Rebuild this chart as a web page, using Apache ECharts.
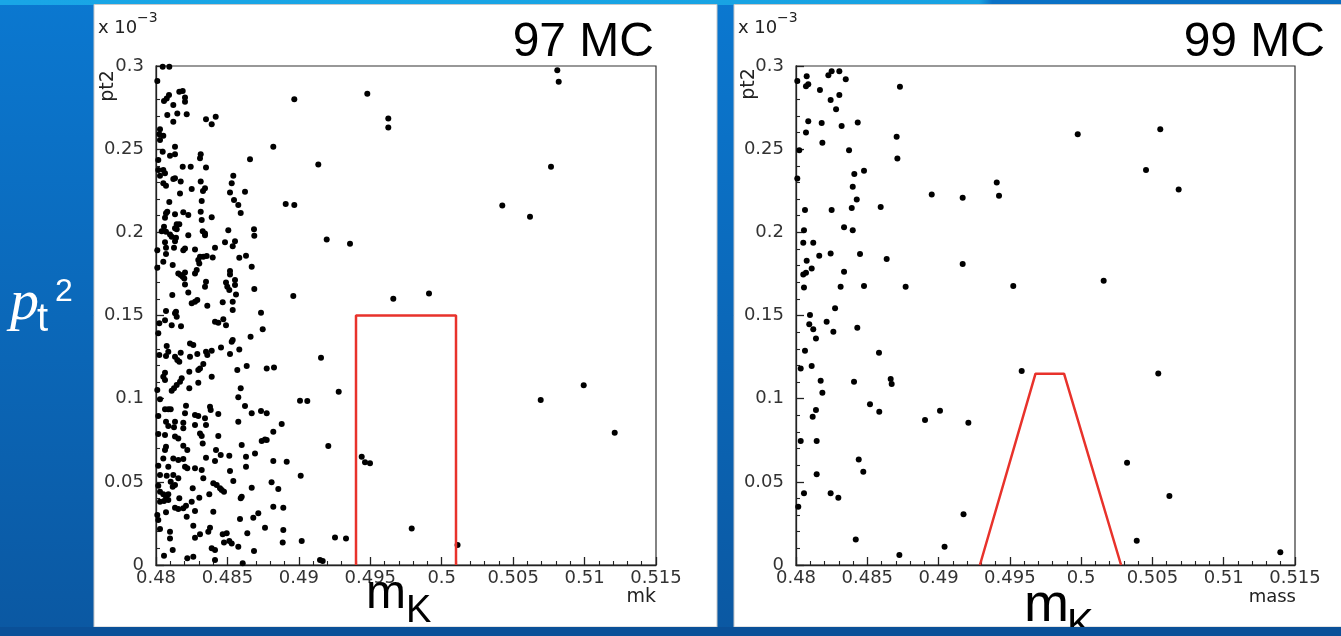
<!DOCTYPE html>
<html><head><meta charset="utf-8">
<script src="https://cdn.jsdelivr.net/npm/echarts@6/dist/echarts.min.js"></script>
<style>html,body{margin:0;padding:0;width:1341px;height:636px;overflow:hidden}#c{width:1341px;height:636px}</style>
</head><body><div id="c"></div><script>
// ---- data (pt2 in units of 1e-3) ----
const xTickLabels = ['0.48','0.485','0.49','0.495','0.5','0.505','0.51','0.515'];
const yTickLabels = ['0','0.05','0.1','0.15','0.2','0.25','0.3'];
const panelTitles = ['97 MC','99 MC'];
const xAxisNames = ['mk','mass'];

const pts97 = [
[0.48047,0.2995],[0.48093,0.2995],[0.48009,0.291],[0.48056,0.279],[0.48075,0.2805],[0.48091,0.2825],[0.48163,0.2845],[0.48187,0.285],[0.48203,0.281],[0.48203,0.2785],[0.48121,0.2765],[0.48079,0.2705],[0.48149,0.2715],[0.48215,0.271],[0.48121,0.2665],[0.4835,0.268],[0.4839,0.265],[0.48418,0.2695],[0.48968,0.28],[0.48028,0.262],[0.48023,0.259],[0.48051,0.258],[0.48028,0.2555],[0.48133,0.2515],[0.48047,0.2485],[0.48098,0.246],[0.48133,0.247],[0.48016,0.2435],[0.48313,0.247],[0.48308,0.2445],[0.48821,0.2515],[0.48658,0.244],[0.48187,0.2395],[0.48243,0.2395],[0.4835,0.239],[0.48016,0.2375],[0.48051,0.2375],[0.48063,0.2355],[0.48028,0.234],[0.48121,0.232],[0.48133,0.2325],[0.48173,0.2305],[0.48051,0.2295],[0.4807,0.228],[0.48313,0.2305],[0.48541,0.234],[0.4853,0.2295],[0.4825,0.226],[0.48343,0.2265],
[0.49479,0.2833],[0.49626,0.2685],[0.49626,0.263],[0.49136,0.2408],[0.50809,0.2975],[0.50819,0.2905],[0.50765,0.2395],[0.50424,0.2162],[0.50618,0.2094],[0.49911,0.1633],[0.48908,0.217],[0.48968,0.2164],[0.49195,0.1957],[0.49358,0.1931],[0.48961,0.1617],[0.49661,0.16],
[0.48329,0.2248],[0.48168,0.2234],[0.48518,0.224],[0.48623,0.2244],[0.48093,0.2183],[0.4832,0.2188],[0.48546,0.2194],[0.48576,0.2164],[0.48593,0.2116],[0.4807,0.2114],[0.48079,0.2124],[0.48133,0.2108],[0.48191,0.212],[0.48226,0.2104],[0.48313,0.2124],[0.4839,0.209],[0.4832,0.2074],[0.48063,0.2087],[0.48145,0.2048],[0.48163,0.2048],[0.48133,0.2024],[0.48145,0.2018],[0.48056,0.2033],[0.4804,0.2007],[0.4807,0.2003],[0.48098,0.1987],[0.4811,0.1973],[0.4814,0.1967],[0.48226,0.1983],[0.48327,0.2007],[0.48343,0.1993],[0.48343,0.1983],
[0.48506,0.2013],[0.48686,0.2019],[0.48688,0.1979],[0.48063,0.194],[0.48133,0.1947],[0.4807,0.1907],[0.48126,0.1907],[0.4807,0.1869],[0.48009,0.1893],[0.48191,0.1893],[0.48203,0.1903],[0.48273,0.1897],[0.48483,0.194],[0.48553,0.1947],[0.48537,0.1917],[0.48413,0.1907],[0.48308,0.1853],[0.48331,0.1853],[0.48355,0.1857],[0.48397,0.1849],[0.48296,0.1833],[0.48303,0.1813],[0.48285,0.1773],[0.48273,0.1753],[0.48051,0.1823],[0.48117,0.1803],[0.48009,0.1787],[0.48583,0.1847],[0.4863,0.1859],[0.4867,0.1793],[0.48156,0.1753],[0.48173,0.1743],[0.48187,0.1733],[0.48203,0.1759],[0.48198,0.1723],[0.48518,0.1767],[0.48518,0.1747],[0.48553,0.1713],[0.4835,0.1703],[0.48203,0.1687],[0.48343,0.1673],[0.4849,0.1699],[0.48499,0.1673],[0.48513,0.1653],[0.48553,0.1683],[0.4856,0.1627],[0.48688,0.1659],[0.48226,0.1639],[0.48114,0.1623],[0.4825,0.1573],[0.48273,0.1583],[0.48289,0.1593],[0.48359,0.1558],[0.48467,0.1579],[0.48537,0.1583],[0.48537,0.1533],[0.4807,0.1527],[0.4814,0.1523],[0.48133,0.1513],[0.48735,0.1516],
[0.48145,0.1492],[0.48023,0.1453],[0.48063,0.1472],[0.4811,0.1442],[0.48175,0.1436],[0.48413,0.1462],[0.48436,0.1456],[0.48471,0.1477],[0.4849,0.1442],[0.48747,0.1417],[0.48016,0.1393],[0.48662,0.1372],[0.4853,0.1342],[0.48537,0.1352],[0.48238,0.1332],[0.48261,0.1322],[0.48455,0.1308],[0.48583,0.1296],[0.48075,0.1316],[0.48086,0.1282],[0.48023,0.1262],[0.4807,0.1256],[0.48133,0.1252],[0.48149,0.1232],[0.48173,0.1276],[0.48238,0.1252],[0.48289,0.1268],[0.4835,0.1282],[0.48359,0.1262],[0.4839,0.1288],[0.48518,0.1268],[0.48163,0.1222],[0.48331,0.1208],[0.48308,0.1182],[0.48296,0.1172],[0.48635,0.1196],[0.48569,0.1172],[0.48775,0.1182],[0.48826,0.1188],[0.48063,0.1156],[0.48051,0.1132],[0.48063,0.1112],[0.48233,0.1162],[0.4839,0.1132],[0.4818,0.1122],[0.48168,0.1102],[0.48145,0.1082],[0.48126,0.1062],[0.4811,0.1048],[0.48296,0.1096],[0.48233,0.1062],[0.48009,0.1052],[0.48593,0.1062],[0.48576,0.1008],[0.48028,0.0996],[0.49008,0.0987],[0.49059,0.0986],[0.4821,0.0957],[0.48378,0.0951],[0.48383,0.0932],[0.48623,0.0956],[0.48063,0.0936],[0.48086,0.0936],[0.48103,0.0936],[0.48203,0.0912],[0.48273,0.0902],[0.48296,0.0896],[0.48343,0.0882],[0.48436,0.0908],[0.4867,0.0912],[0.48735,0.0926],[0.48775,0.0912],[0.48016,0.0896],[0.48576,0.0861],[0.4807,0.0861],[0.48133,0.0861],[0.48191,0.0855],[0.4888,0.0847],[0.48273,0.0841],[0.4835,0.0841],[0.48086,0.0835],[0.48126,0.0828],[0.48191,0.0822],[0.48821,0.0801],[0.48016,0.0787],[0.48063,0.0781],[0.48308,0.0791],[0.4832,0.0775],[0.48436,0.0775],[0.48156,0.0761],[0.48763,0.0755],
[0.49155,0.1246],[0.49279,0.1042],
[0.48133,0.0773],[0.4874,0.0745],[0.48775,0.0751],[0.4807,0.0711],[0.48063,0.0691],[0.48051,0.0641],[0.48191,0.0717],[0.48219,0.0691],[0.48327,0.0731],[0.4842,0.0691],[0.48413,0.0625],[0.486,0.0721],[0.48453,0.0661],[0.48513,0.0657],[0.48693,0.0671],[0.4863,0.0651],[0.4863,0.0591],[0.4835,0.0645],[0.48121,0.0641],[0.48156,0.0631],[0.48191,0.0637],[0.48203,0.0591],[0.48219,0.0581],[0.48821,0.0625],[0.48915,0.0621],[0.48016,0.0597],[0.48086,0.0591],[0.48028,0.0541],[0.48075,0.0537],[0.48121,0.0541],[0.48273,0.0581],[0.4832,0.0571],[0.48518,0.0565],[0.49013,0.0537],[0.48103,0.0501],[0.48133,0.0481],[0.48117,0.0471],[0.48156,0.0521],[0.48331,0.0521],[0.48401,0.0491],[0.48425,0.0481],[0.48448,0.0461],[0.4846,0.0451],[0.48476,0.0441],[0.48257,0.0461],[0.48541,0.0505],[0.48809,0.0497],[0.48856,0.0457],[0.4867,0.0465],[0.48016,0.0477],[0.48028,0.0441],[0.48051,0.0425],[0.4807,0.0411],[0.48086,0.0425],[0.48086,0.0391],[0.48028,0.0381],[0.48056,0.0385],[0.48163,0.0401],[0.48303,0.0405],[0.48373,0.0425],[0.486,0.0411],[0.48593,0.0401],[0.48133,0.0344],[0.48156,0.0337],[0.48191,0.0341],[0.4821,0.0356],[0.4825,0.0381],[0.4807,0.0317],[0.48273,0.0325],[0.48401,0.032],[0.48215,0.029],[0.48716,0.0311],[0.48681,0.0284],[0.48821,0.035],[0.48891,0.0344],[0.48588,0.0276],[0.48009,0.03],[0.48016,0.027],[0.48261,0.0236],[0.48378,0.0224],[0.48366,0.02],[0.48308,0.0185],[0.48273,0.0164],[0.48763,0.0224],[0.48467,0.0185],[0.48495,0.0191],[0.48639,0.0191],[0.48891,0.021],[0.48028,0.0216],[0.48098,0.02],[0.48098,0.016],[0.48513,0.0144],[0.4853,0.013],[0.48476,0.0136],[0.48887,0.0136],[0.4902,0.0144],[0.48576,0.011],[0.4839,0.01],[0.48413,0.009],[0.48117,0.009],[0.48686,0.0084],[0.48056,0.0056],[0.48219,0.004],[0.48261,0.005],[0.48413,0.003],[0.48607,0.001],
[0.49206,0.0715],[0.4944,0.0651],[0.49463,0.0617],[0.49498,0.0611],[0.49253,0.0166],[0.4933,0.016],[0.4979,0.022],[0.49148,0.003],[0.49167,0.0024],[0.50111,0.012],[0.50693,0.0992],[0.50994,0.108],[0.51211,0.0795]
];

const pts99 = [
[0.48009,0.291],[0.48075,0.2939],[0.4807,0.2879],[0.48086,0.2891],[0.48227,0.2945],[0.4825,0.2969],[0.48304,0.2969],[0.48349,0.2921],[0.48168,0.2855],[0.48243,0.2795],[0.48304,0.2825],[0.48281,0.274],[0.48729,0.2875],[0.48086,0.2668],[0.4818,0.2658],[0.4832,0.264],[0.48433,0.266],[0.4807,0.26],[0.48185,0.2538],[0.48706,0.2574],[0.48023,0.2494],[0.48372,0.2494],[0.48711,0.2444],[0.48009,0.2324],[0.48409,0.235],[0.48477,0.237],[0.48398,0.2274],[0.48426,0.2198],[0.48391,0.2147],[0.48594,0.2153],[0.48952,0.2228],[0.49169,0.2208],[0.49408,0.23],[0.49424,0.222],[0.48063,0.2134],[0.4825,0.2134],[0.48056,0.2013],[0.48398,0.2013],[0.48337,0.203],[0.48051,0.1937],[0.48121,0.1937],[0.48243,0.1873],[0.48163,0.1859],[0.48075,0.1829],[0.48449,0.1869],[0.48636,0.1839],[0.49169,0.1809],[0.4811,0.1783],[0.48051,0.1747],[0.4807,0.1757],[0.48337,0.1763],[0.48056,0.1669],[0.48313,0.1673],[0.48477,0.1677],[0.48769,0.1673],[0.49524,0.1677],[0.48274,0.1543],
[0.48098,0.1503],[0.48093,0.1447],[0.48121,0.1417],[0.48215,0.1462],[0.48262,0.1402],[0.4843,0.1426],[0.4814,0.1362],[0.48063,0.1288],[0.48582,0.1276],[0.48033,0.1182],[0.4811,0.1196],[0.48173,0.1108],[0.48407,0.1102],[0.48664,0.1118],[0.48671,0.1088],[0.48185,0.1036],[0.49583,0.1166],[0.4814,0.0932],[0.48117,0.0891],[0.48519,0.0966],[0.48584,0.0921],[0.48905,0.0871],[0.4901,0.0927],[0.49209,0.0855],[0.48033,0.0745],[0.48145,0.0745],[0.4844,0.0635],[0.48472,0.0561],[0.48145,0.0545],[0.48056,0.0431],[0.48243,0.0431],[0.48297,0.0405],[0.48016,0.035],[0.49175,0.0305],[0.48419,0.0154],[0.49042,0.011],[0.48725,0.006],
[0.49976,0.2589],[0.50555,0.2619],[0.50455,0.2374],[0.50684,0.2258],[0.50158,0.1709],[0.50541,0.1152],[0.50322,0.0615],[0.50619,0.0415],[0.5039,0.0146],[0.51397,0.0076]
];

const cut97 = [[0.494,0],[0.494,0.15],[0.501,0.15],[0.501,0]];
const cut99 = [[0.4929,0],[0.4968,0.115],[0.4988,0.115],[0.5028,0]];

// ---- chart ----
const chart = echarts.init(document.getElementById('c'), null, {renderer:'canvas'});
const LBL = 'DejaVu Sans';
const axisCol = '#222';
function xLab(v){ const i = Math.round((v-0.48)/0.005); return xTickLabels[i] !== undefined ? xTickLabels[i] : ''; }
function yLab(v){ const i = Math.round(v/0.05); return yTickLabels[i] !== undefined ? yTickLabels[i] : ''; }
function xAx(g){ return {type:'value', gridIndex:g, min:0.48, max:0.515, interval:0.005,
  axisLine:{show:true,onZero:false,lineStyle:{color:axisCol,width:1.3}},
  axisTick:{show:true,inside:true,length:8,lineStyle:{color:axisCol,width:1.3}},
  minorTick:{show:true,splitNumber:5,length:4,lineStyle:{color:axisCol,width:1.1}},
  splitLine:{show:false}, minorSplitLine:{show:false},
  axisLabel:{color:'#333',fontSize:18,fontFamily:LBL,margin:4,formatter:xLab,showMinLabel:true,showMaxLabel:true}}; }
function yAx(g){ return {type:'value', gridIndex:g, min:0, max:0.3, interval:0.05,
  axisLine:{show:true,onZero:false,lineStyle:{color:axisCol,width:1.3}},
  axisTick:{show:true,inside:true,length:8,lineStyle:{color:axisCol,width:1.3}},
  minorTick:{show:true,splitNumber:5,length:4,lineStyle:{color:axisCol,width:1.1}},
  splitLine:{show:false}, minorSplitLine:{show:false},
  axisLabel:{color:'#333',fontSize:18,fontFamily:LBL,margin:12,formatter:yLab,showMinLabel:true,showMaxLabel:true}}; }

const T = (text, x, y, font, color, align, extra) => Object.assign({type:'text', x:x, y:y, z:50,
  style:{text:text, font:font, fill:color||'#000', textAlign:align||'left', textVerticalAlign:'middle'}}, extra||{});

const graphics = [
  {type:'rect', z:-20, shape:{x:0,y:0,width:1341,height:636}, style:{fill:new echarts.graphic.LinearGradient(0,0,0,1,[{offset:0,color:'#0b78d0'},{offset:1,color:'#0b58a2'}])}},
  {type:'rect', z:-19, shape:{x:0,y:0,width:1341,height:5}, style:{fill:new echarts.graphic.LinearGradient(0,0,1,0,[{offset:0,color:'#19a6e6'},{offset:0.73,color:'#18a2e2'},{offset:0.74,color:'#0b72c6'},{offset:1,color:'#0b6ec0'}])}},
  {type:'rect', z:-18, shape:{x:94,y:4.5,width:623,height:622.5}, style:{fill:'#ffffff',stroke:'#c8c8c8',lineWidth:1}},
  {type:'rect', z:-18, shape:{x:734,y:4.5,width:612,height:622.5}, style:{fill:'#ffffff',stroke:'#c8c8c8',lineWidth:1}},
  T(panelTitles[0], 654, 43, '48px "Liberation Sans"', '#000', 'right'),
  T(panelTitles[1], 1325, 43, '48px "Liberation Sans"', '#000', 'right'),
  T('x 10', 98, 28.5, '18px "DejaVu Sans"', '#222'),
  T('\u22123', 137, 18, '14px "DejaVu Sans"', '#222'),
  T('x 10', 738, 28.5, '18px "DejaVu Sans"', '#222'),
  T('\u22123', 777, 18, '14px "DejaVu Sans"', '#222'),
  T('pt2', 108, 86, '19px "DejaVu Sans"', '#222', 'center', {rotation:Math.PI/2}),
  T('pt2', 749, 84, '19px "DejaVu Sans"', '#222', 'center', {rotation:Math.PI/2}),
  T(xAxisNames[0], 656, 597, '19px "DejaVu Sans"', '#222', 'right'),
  T(xAxisNames[1], 1296, 597, '18px "DejaVu Sans"', '#222', 'right'),
  T('m', 366, 595, '48px "Liberation Sans"', '#000'),
  T('K', 406, 612, '38px "Liberation Sans"', '#000'),
  T('m', 1024, 606, '54px "Liberation Sans"', '#000'),
  T('K', 1067, 626, '40px "Liberation Sans"', '#000'),
  T('p', 10, 304, 'italic 58px "Liberation Serif"', '#ffffff'),
  T('t', 37, 320, '40px "Liberation Sans"', '#ffffff'),
  T('2', 55, 292, '32px "Liberation Sans"', '#ffffff'),
  {type:'rect', z:60, shape:{x:0,y:627,width:1341,height:9}, style:{fill:'#0a5098'}}
];

const option = {
  animation:false,
  backgroundColor:'#0b6cc0',
  graphic:{elements:graphics},
  grid:[
    {left:156, top:66, width:500, height:499, show:true, borderColor:'#333', borderWidth:1.2, backgroundColor:'transparent', containLabel:false},
    {left:796, top:66, width:499, height:499, show:true, borderColor:'#333', borderWidth:1.2, backgroundColor:'transparent', containLabel:false}
  ],
  xAxis:[xAx(0), xAx(1)],
  yAxis:[yAx(0), yAx(1)],
  series:[
    {type:'scatter', xAxisIndex:0, yAxisIndex:0, data:pts97, symbol:'circle', symbolSize:6, itemStyle:{color:'#000',opacity:1}, silent:true, z:3},
    {type:'scatter', xAxisIndex:1, yAxisIndex:1, data:pts99, symbol:'circle', symbolSize:6, itemStyle:{color:'#000',opacity:1}, silent:true, z:3},
    {type:'line', xAxisIndex:0, yAxisIndex:0, data:cut97, showSymbol:false, symbol:'none', lineStyle:{color:'#e8322b',width:2.5}, silent:true, z:4},
    {type:'line', xAxisIndex:1, yAxisIndex:1, data:cut99, showSymbol:false, symbol:'none', lineStyle:{color:'#e8322b',width:2.5}, silent:true, z:4}
  ]
};
chart.setOption(option);
</script></body></html>
